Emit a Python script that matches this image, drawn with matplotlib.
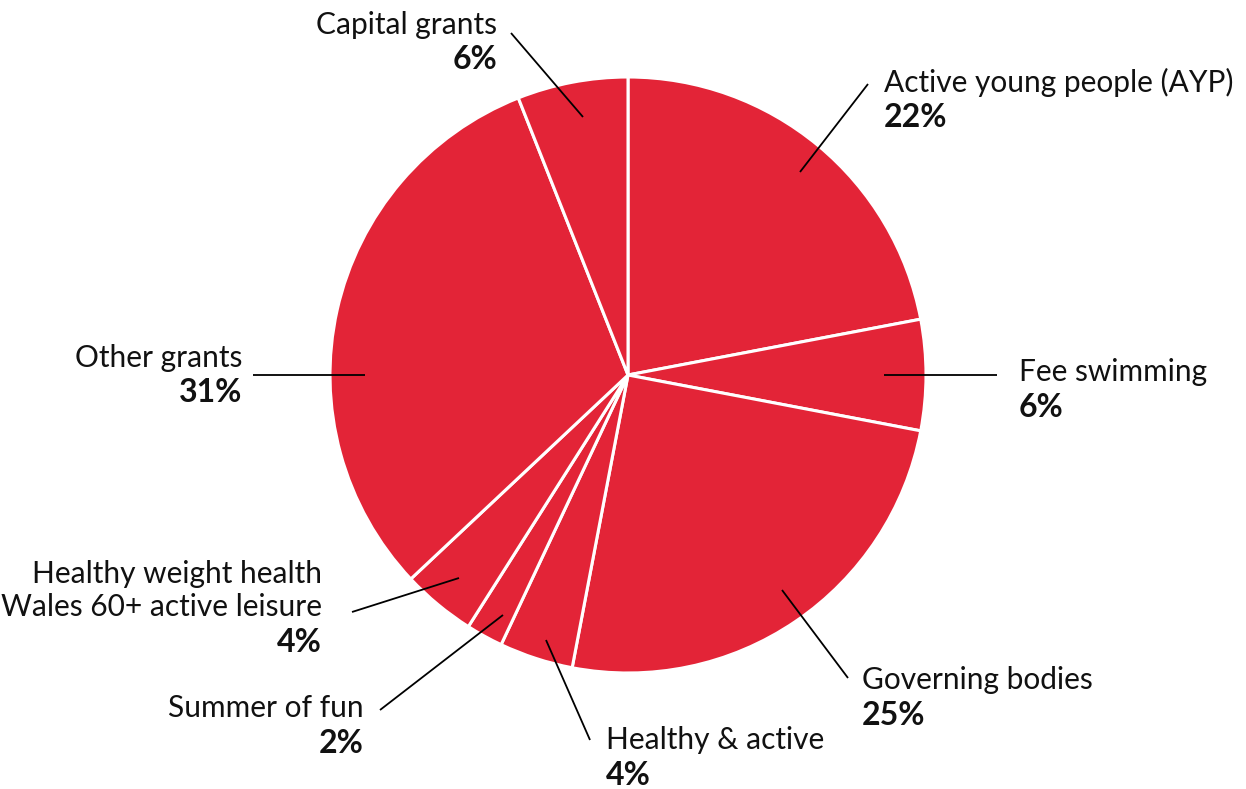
import matplotlib
matplotlib.use("Agg")
import matplotlib.pyplot as plt

# ---- data ----
categories = ["Active young people (AYP)", "Fee swimming", "Governing bodies",
              "Healthy & active", "Summer of fun",
              "Healthy weight health\nWales 60+ active leisure",
              "Other grants", "Capital grants"]
values = [22, 6, 25, 4, 2, 4, 31, 6]
pct_labels = ["22%", "6%", "25%", "4%", "2%", "4%", "31%", "6%"]

# ---- layout (pixel positions in a 1246x789 canvas) ----
W, H = 1246, 789
CX, CY, R = 628, 375, 298
# (text x, first text line centre y, ha, leader start, leader end)
layout = [
    (884, 80, "left", (800, 172), (868, 84)),
    (1019, 370, "left", (884, 375), (997, 375)),
    (862, 678, "left", (782, 590), (848, 678)),
    (606, 738, "left", (546, 640), (590, 740)),
    (364, 706, "right", (503, 615), (380, 710)),
    (322, 572, "right", (459, 578), (352, 612)),
    (242, 355, "right", (365, 375), (253, 375)),
    (497, 22, "right", (583, 117), (511, 33)),
]

RED = "#E32437"
FONT = ["Lato", "DejaVu Sans"]

fig = plt.figure(figsize=(W / 100, H / 100), dpi=100)
ax = fig.add_axes([(CX - R) / W, (H - CY - R) / H, 2 * R / W, 2 * R / H])

ax.pie(values, startangle=90, counterclock=False, radius=1,
       colors=[RED] * len(values),
       wedgeprops=dict(edgecolor="white", linewidth=2.2))
ax.set_xlim(-1, 1)
ax.set_ylim(-1, 1)
ax.set_aspect("equal")
ax.axis("off")


def d(p):
    return ((p[0] - CX) / R, (CY - p[1]) / R)


LINE_H = 33
for name, pct, (tx, ty, ha, p0, p1) in zip(categories, pct_labels, layout):
    a, b = d(p0), d(p1)
    ax.plot([a[0], b[0]], [a[1], b[1]], color="black", lw=1.3,
            clip_on=False, solid_capstyle="butt")
    lines = name.split("\n")
    y = ty
    for ln in lines:
        x0, y0 = d((tx, y))
        ax.text(x0, y0, ln, ha=ha, va="center_baseline", fontsize=21.5,
                family=FONT, color="#111111", clip_on=False)
        y += LINE_H
    x0, y0 = d((tx, y + 2))
    ax.text(x0, y0, pct, ha=ha, va="center_baseline", fontsize=23,
            fontweight="bold", family=FONT, color="#111111", clip_on=False)

fig.savefig("out.png", dpi=100)
